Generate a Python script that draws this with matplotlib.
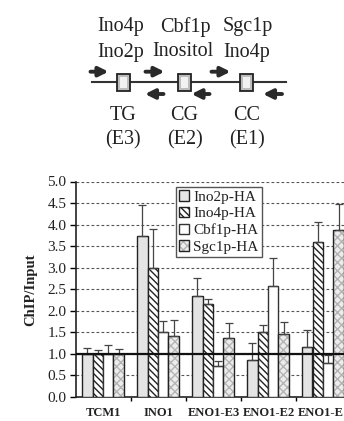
import matplotlib
matplotlib.use("Agg")
import matplotlib.pyplot as plt
from matplotlib.patches import Rectangle
from matplotlib.legend_handler import HandlerTuple
import numpy as np

# ---------------- data ----------------
groups = ["TCM1", "INO1", "ENO1-E3", "ENO1-E2", "ENO1-E1"]
series = ["Ino2p-HA", "Ino4p-HA", "Cbf1p-HA", "Sgc1p-HA"]
ino2 = [1.00, 3.73, 2.35, 0.85, 1.15]
ino4 = [1.00, 3.00, 2.15, 1.50, 3.60]
cbf1 = [1.00, 1.50, 0.73, 2.58, 0.78]
sgc1 = [1.00, 1.42, 1.38, 1.47, 3.88]
ino2_err = [0.13, 0.72, 0.42, 0.40, 0.41]
ino4_err = [0.10, 0.90, 0.13, 0.17, 0.47]
cbf1_err = [0.20, 0.27, 0.10, 0.64, 0.20]
sgc1_err = [0.12, 0.37, 0.33, 0.27, 0.59]
yticks = [0.0, 0.5, 1.0, 1.5, 2.0, 2.5, 3.0, 3.5, 4.0, 4.5, 5.0]

# diagram annotations
top_line1 = ["Ino4p", "Cbf1p", "Sgc1p"]
top_line2 = ["Ino2p", "Inositol", "Ino4p"]
elem_names = ["TG", "CG", "CC"]
elem_ids = ["(E3)", "(E2)", "(E1)"]

W, H = 344, 421
fig = plt.figure(figsize=(W / 100, H / 100), dpi=100)
serif = "Liberation Serif"
tc = "#222222"

# ---------------- diagram ----------------
ad = fig.add_axes([0, 0, 1, 1])
ad.set_xlim(0, W)
ad.set_ylim(H, 0)
ad.axis("off")

elem_x = [123, 184.5, 246.5]
label_x1 = [121, 185, 248]
label_x2 = [121, 183, 247]
for xx, t in zip(label_x1, top_line1):
    ad.text(xx, 27, t, ha="center", va="center", fontsize=14.5, family=serif, color=tc)
for xx, t in zip(label_x2, top_line2):
    ad.text(xx, 52, t, ha="center", va="center", fontsize=14.5, family=serif, color=tc)
for xx, t in zip(elem_x, elem_names):
    ad.text(xx, 115, t, ha="center", va="center", fontsize=14.5, family=serif, color=tc)
for xx, t in zip(elem_x, elem_ids):
    ad.text(xx, 140, t, ha="center", va="center", fontsize=14.5, family=serif, color=tc)

ad.plot([91.5, 286], [81.7, 81.7], color="#333333", lw=1.5)
for xx in elem_x:
    ad.add_patch(Rectangle((xx - 6.5, 74), 13, 16.7, facecolor="#bdbdbd",
                           edgecolor="#222222", lw=1.3, zorder=3))
    ad.add_patch(Rectangle((xx - 3.5, 77), 7, 10.7, facecolor="#f2f2f2",
                           edgecolor="none", zorder=4))

fwd = [(90.5, 108.5), (145.5, 164.5), (211.5, 230.5)]
rev = [(163.5, 145), (209.5, 191.5), (282, 263)]
for a, b in fwd:
    ad.annotate("", xy=(b, 71.7), xytext=(a, 71.7),
                arrowprops=dict(arrowstyle="-|>", lw=2.8, color="#2a2a2a",
                                mutation_scale=14, shrinkA=0, shrinkB=0))
for a, b in rev:
    ad.annotate("", xy=(b, 94), xytext=(a, 94),
                arrowprops=dict(arrowstyle="-|>", lw=2.8, color="#2a2a2a",
                                mutation_scale=14, shrinkA=0, shrinkB=0))

# ---------------- bar chart ----------------
left, right = 76, 351
y0px, y5px = 397, 181.5
ax = fig.add_axes([left / W, (H - y0px) / H, (right - left) / W, (y0px - y5px) / H])
ax.set_xlim(-0.5, 4.5)
ax.set_ylim(0, 5.0)

x = np.arange(len(groups))
bw = 0.19
vals = [ino2, ino4, cbf1, sgc1]
errs = [ino2_err, ino4_err, cbf1_err, sgc1_err]

handles = []
for i, (v, e, name) in enumerate(zip(vals, errs, series)):
    pos = x + (i - 1.5) * bw - 0.01
    if i == 0:
        b = ax.bar(pos, v, width=bw, facecolor="#e4e4e4", edgecolor="#222222", lw=1.0, zorder=3)
        handles.append(b.patches[0])
    elif i == 1:
        b = ax.bar(pos, v, width=bw, facecolor="white", edgecolor="#222222",
                   hatch="\\\\\\\\\\", lw=1.0, zorder=3)
        handles.append(b.patches[0])
    elif i == 2:
        b = ax.bar(pos, v, width=bw, facecolor="white", edgecolor="#333333", lw=1.0, zorder=3)
        handles.append(b.patches[0])
    else:
        b1 = ax.bar(pos, v, width=bw, facecolor="#ececec", edgecolor="#b4b4b4",
                    hatch="xxxx", lw=0, zorder=3)
        b2 = ax.bar(pos, v, width=bw, facecolor="none", edgecolor="#222222", lw=1.0, zorder=3.1)
        handles.append((b1.patches[0], b2.patches[0]))
    ax.errorbar(pos, v, yerr=[np.zeros(len(e)), e], fmt="none", ecolor="#444444",
                elinewidth=0.9, capsize=3, capthick=0.9, zorder=4)

for yv in yticks[1:]:
    ax.axhline(yv, color="#555555", lw=0.8, ls=(0, (2.5, 2)), zorder=1)
ax.axhline(1.0, color="#111111", lw=1.6, zorder=5)

for s in ["top", "right"]:
    ax.spines[s].set_visible(False)
for s in ["left", "bottom"]:
    ax.spines[s].set_color("#222222")
    ax.spines[s].set_linewidth(1.2)

ax.set_yticks(yticks)
ax.set_yticklabels([f"{t:.1f}" for t in yticks], family=serif, fontsize=11, color=tc)
ax.tick_params(axis="y", direction="out", length=4, width=1, pad=3)

ax.set_xticks(x[:-1] + 0.5)
ax.set_xticklabels([])
ax.tick_params(axis="x", which="major", direction="out", length=3, width=1)
ax.set_xticks(x, minor=True)
ax.set_xticklabels(groups, minor=True, family=serif, fontsize=9, fontweight="bold", color=tc)
ax.tick_params(axis="x", which="minor", length=0, pad=7)

ax.set_ylabel("ChIP/Input", family=serif, fontsize=10.5, fontweight="bold", color=tc)
ax.yaxis.set_label_coords(-0.14, 0.5)

leg = ax.legend(handles, series, loc="upper left", bbox_to_anchor=(175.7 / W, 1 - 187 / H),
                bbox_transform=fig.transFigure, borderaxespad=0,
                handler_map={tuple: HandlerTuple(ndivide=1, pad=0)},
                prop=dict(family=serif, size=11), handlelength=0.7, handleheight=0.7,
                handletextpad=0.25, labelspacing=0.2, borderpad=0.2,
                frameon=True, fancybox=False, edgecolor="#555555", framealpha=1)
leg.get_frame().set_linewidth(1.0)
for t in leg.get_texts():
    t.set_color(tc)
leg.set_zorder(10)

fig.savefig("out.png", dpi=100)
